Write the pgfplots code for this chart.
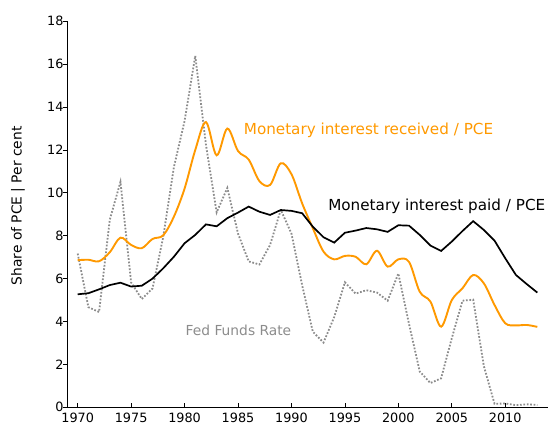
\documentclass[border=0pt]{standalone}
\usepackage{pgfplots}
\pgfplotsset{compat=1.18}
\usepackage{fontspec}
\setmainfont{DejaVu Sans}
\definecolor{orng}{RGB}{255,153,0}
\definecolor{ffgray}{RGB}{140,140,140}
\definecolor{fflab}{RGB}{140,140,140}
\begin{document}
\begin{tikzpicture}
\begin{axis}[
  scale only axis,
  width=481pt, height=386pt,
  xmin=1969, xmax=2014,
  ymin=0, ymax=18,
  axis x line*=bottom, axis y line*=left,
  axis line style={line width=0.9pt},
  xtick={1970,1975,...,2010},
  ytick={0,2,...,18},
  x tick label style={/pgf/number format/1000 sep={}, yshift=-2.5pt},
  /pgf/number format/assume math mode=true,
  tick label style={font=\fontsize{12.8}{13}\selectfont},
  tick align=inside,
  major tick length=4pt,
  tick style={line width=0.8pt, black},
  y tick style={xshift=-4pt},
  ylabel={Share of PCE | Per cent},
  ylabel style={at={(axis description cs:-0.102,0.522)}, anchor=center, font=\fontsize{13.8}{14}\selectfont},
  clip=false,
]
% Fed Funds Rate
\addplot[ffgray, line width=1.8pt, dash pattern={on 1.7pt off 1.7pt}] coordinates {
(1970,7.17)(1971,4.67)(1972,4.44)(1973,8.74)(1974,10.51)(1975,5.82)(1976,5.05)(1977,5.54)(1978,7.94)(1979,11.2)
(1980,13.35)(1981,16.39)(1982,12.24)(1983,9.09)(1984,10.23)(1985,8.10)(1986,6.80)(1987,6.66)(1988,7.57)(1989,9.21)
(1990,8.10)(1991,5.69)(1992,3.52)(1993,3.02)(1994,4.21)(1995,5.83)(1996,5.30)(1997,5.46)(1998,5.35)(1999,4.97)
(2000,6.24)(2001,3.88)(2002,1.67)(2003,1.13)(2004,1.35)(2005,3.22)(2006,4.97)(2007,5.02)(2008,1.92)(2009,0.16)
(2010,0.18)(2011,0.10)(2012,0.14)(2013,0.11)
};
% Monetary interest received / PCE
\addplot[orng, line width=1.9pt, smooth, tension=0.55] coordinates {
(1970,6.86)(1971,6.88)(1972,6.81)(1973,7.23)(1974,7.91)(1975,7.57)(1976,7.42)(1977,7.85)(1978,8.02)(1979,8.89)
(1980,10.2)(1981,12.0)(1982,13.3)(1983,11.75)(1984,13.0)(1985,11.95)(1986,11.55)(1987,10.55)(1988,10.37)(1989,11.38)
(1990,10.87)(1991,9.51)(1992,8.35)(1993,7.26)(1994,6.90)(1995,7.06)(1996,7.02)(1997,6.67)(1998,7.30)(1999,6.56)
(2000,6.9)(2001,6.78)(2002,5.39)(2003,4.93)(2004,3.76)(2005,5.0)(2006,5.55)(2007,6.17)(2008,5.78)(2009,4.77)
(2010,3.92)(2011,3.82)(2012,3.84)(2013,3.75)
};
% Monetary interest paid / PCE
\addplot[black, line width=1.7pt] coordinates {
(1970,5.27)(1971,5.32)(1972,5.50)(1973,5.70)(1974,5.81)(1975,5.63)(1976,5.67)(1977,6.0)(1978,6.48)(1979,7.02)
(1980,7.65)(1981,8.04)(1982,8.53)(1983,8.44)(1984,8.82)(1985,9.08)(1986,9.36)(1987,9.12)(1988,8.97)(1989,9.20)
(1990,9.16)(1991,9.05)(1992,8.42)(1993,7.93)(1994,7.68)(1995,8.14)(1996,8.24)(1997,8.36)(1998,8.30)(1999,8.18)
(2000,8.49)(2001,8.47)(2002,8.04)(2003,7.54)(2004,7.29)(2005,7.73)(2006,8.22)(2007,8.68)(2008,8.27)(2009,7.77)
(2010,6.95)(2011,6.17)(2012,5.75)(2013,5.35)
};
\node[anchor=base west, inner sep=0pt, text=orng, font=\fontsize{15.2}{16}\selectfont] at (axis cs:1985.53,12.70) {Monetary interest received / PCE};
\node[anchor=base west, inner sep=0pt, text=black, font=\fontsize{15.2}{16}\selectfont] at (axis cs:1993.43,9.20) {Monetary interest paid / PCE};
\node[anchor=base west, inner sep=0pt, text=fflab, font=\fontsize{13.8}{14}\selectfont] at (axis cs:1980.09,3.37) {Fed Funds Rate};
\end{axis}
\pgfresetboundingbox
\useasboundingbox (current axis.south west) ++(-67pt,-18.7pt) rectangle ++(555pt,426pt);
\end{tikzpicture}
\end{document}
